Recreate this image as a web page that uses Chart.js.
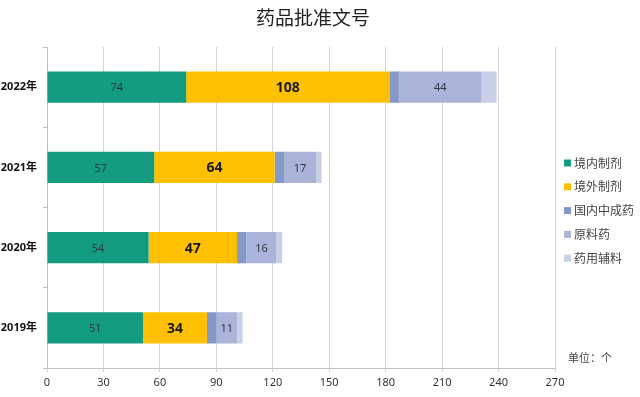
<!DOCTYPE html>
<html>
<head>
<meta charset="utf-8">
<script src="https://cdn.jsdelivr.net/npm/chart.js@4"></script>
<style>
  html, body { margin: 0; padding: 0; background: #fff; }
  #wrap { width: 640px; height: 397px; }
</style>
</head>
<body>
<div id="wrap"><canvas id="drugChart" width="640" height="397"></canvas></div>
<script>
// --- 数据 ---
const years = ['2022年', '2021年', '2020年', '2019年'];
const seriesNames = ['境内制剂', '境外制剂', '国内中成药', '原料药', '药用辅料'];
const domestic = [74, 57, 54, 51];
const imported = [108, 64, 47, 34];
const tcm = [5, 5, 5, 5];
const api = [44, 17, 16, 11];
const excipient = [8, 3, 3, 3];
const xTicks = [0, 30, 60, 90, 120, 150, 180, 210, 240, 270];

const colors = ['#139c7f', '#ffc000', '#8698c8', '#aab4d8', '#c9cfe6'];
const fontFamily = '"Noto Sans", "Noto Sans CJK SC", sans-serif';

// 哪些系列要显示数值标签
const labelStyle = {
    0: { font: '11px ' + fontFamily, color: '#2b3b3a' },
    1: { font: 'bold 14px ' + fontFamily, color: '#1a1a1a' },
    3: { font: '11px ' + fontFamily, color: '#2e3546' }
};

// --- 柱内数值 ---
const barLabels = {
    id: 'barLabels',
    afterDatasetsDraw(chart) {
        const ctx = chart.ctx;
        ctx.save();
        ctx.textAlign = 'center';
        ctx.textBaseline = 'middle';
        chart.data.datasets.forEach((ds, i) => {
            const st = labelStyle[i];
            if (!st) return;
            chart.getDatasetMeta(i).data.forEach((bar, j) => {
                ctx.font = st.font;
                ctx.fillStyle = st.color;
                ctx.fillText(ds.data[j], (bar.x + bar.base) / 2, bar.y + 1);
            });
        });
        ctx.restore();
    }
};

// --- 标题、右侧图例和单位 ---
const sideLegend = {
    id: 'sideLegend',
    afterDraw(chart) {
        const ctx = chart.ctx;
        ctx.save();
        ctx.textBaseline = 'middle';
        ctx.textAlign = 'center';
        ctx.fillStyle = '#222';
        ctx.font = '19px "Noto Sans CJK SC", sans-serif';
        ctx.fillText('药品批准文号', 313, 18);

        ctx.textAlign = 'left';
        ctx.font = '12px "Noto Sans CJK SC", sans-serif';
        chart.data.datasets.forEach((ds, i) => {
            const y = 163 + i * 23.8;
            ctx.fillStyle = ds.backgroundColor;
            ctx.fillRect(564, y - 3.5, 7, 7);
            ctx.fillStyle = '#444';
            ctx.fillText(ds.label, 574, y);
        });
        ctx.font = '11px "Noto Sans CJK SC", sans-serif';
        ctx.fillStyle = '#444';
        ctx.fillText('单位：个', 568, 358);
        ctx.restore();
    }
};

const datasets = [domestic, imported, tcm, api, excipient].map((d, i) => ({
    label: seriesNames[i],
    data: d,
    backgroundColor: colors[i],
    borderWidth: 0,
    categoryPercentage: 1,
    barPercentage: 0.39
}));

new Chart(document.getElementById('drugChart'), {
    type: 'bar',
    data: { labels: years, datasets: datasets },
    options: {
        indexAxis: 'y',
        responsive: false,
        animation: false,
        layout: { padding: { left: 0, right: 85, top: 47, bottom: 0 } },
        plugins: {
            legend: { display: false },
            tooltip: { enabled: false },
            title: { display: false }
        },
        scales: {
            x: {
                stacked: true,
                min: 0,
                max: 270,
                afterBuildTicks(scale) {
                    scale.ticks = xTicks.map(v => ({ value: v }));
                },
                afterFit(scale) { scale.height = 29; },
                grid: { color: '#d4d4d4', tickLength: 4, drawTicks: true },
                border: { color: '#bfbfbf' },
                ticks: {
                    color: '#333',
                    padding: 4,
                    font: { family: fontFamily, size: 11 }
                }
            },
            y: {
                stacked: true,
                afterFit(scale) { scale.width = 47; },
                grid: { offset: true, drawOnChartArea: false, tickLength: 4, color: '#bfbfbf' },
                border: { color: '#bfbfbf' },
                ticks: {
                    color: '#111',
                    padding: 6,
                    font: { family: fontFamily, size: 11, weight: 'bold' }
                }
            }
        }
    },
    plugins: [barLabels, sideLegend]
});
</script>
</body>
</html>
